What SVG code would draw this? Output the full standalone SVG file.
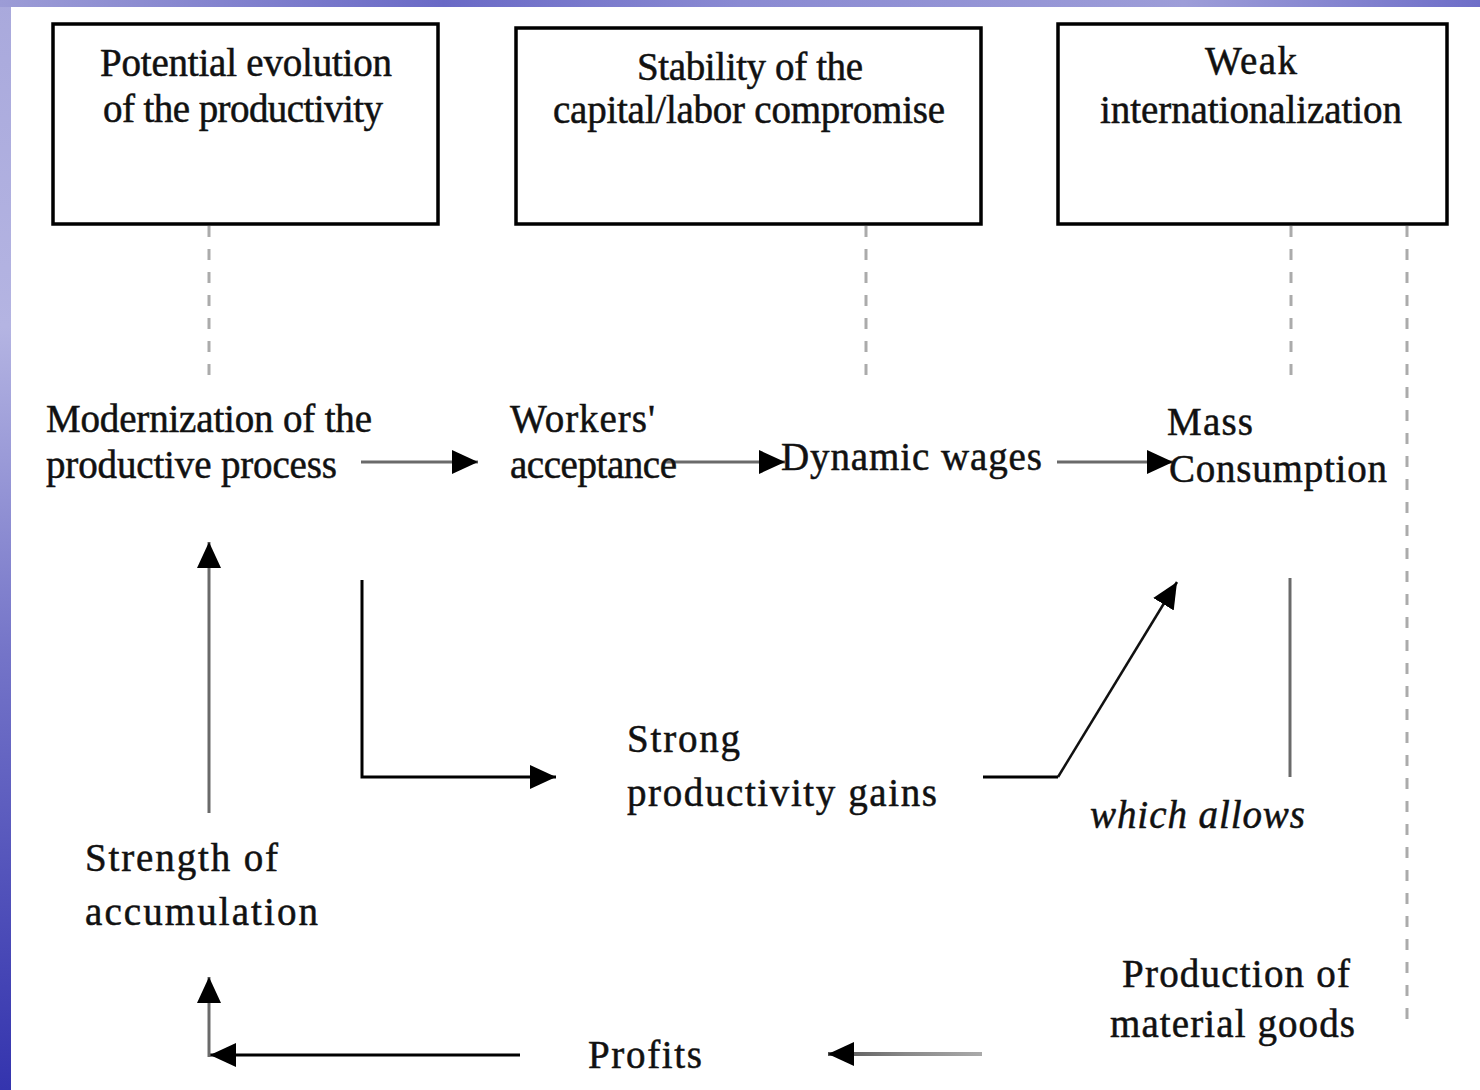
<svg xmlns="http://www.w3.org/2000/svg" width="1480" height="1090" viewBox="0 0 1480 1090">
<defs>
<linearGradient id="side" x1="0" y1="0" x2="0" y2="1">
<stop offset="0" stop-color="#a9a9dc"/>
<stop offset="0.3" stop-color="#b4b4e2"/>
<stop offset="0.6" stop-color="#7474c8"/>
<stop offset="1" stop-color="#3434ae"/>
</linearGradient>
<linearGradient id="top" x1="0" y1="0" x2="1" y2="0">
<stop offset="0" stop-color="#9c9cd6"/>
<stop offset="0.3" stop-color="#6a6ac6"/>
<stop offset="0.5" stop-color="#8a8ad2"/>
<stop offset="0.8" stop-color="#9d9dd8"/>
<stop offset="1" stop-color="#6e6ec8"/>
</linearGradient>
<linearGradient id="fade" gradientUnits="userSpaceOnUse" x1="830" y1="0" x2="982" y2="0">
<stop offset="0" stop-color="#555"/>
<stop offset="0.5" stop-color="#888"/>
<stop offset="1" stop-color="#aaa"/>
</linearGradient>
<marker id="ah" markerUnits="userSpaceOnUse" markerWidth="26" markerHeight="24" refX="26" refY="12" orient="auto" viewBox="0 0 26 24">
<path d="M0,0 L26,12 L0,24 z" fill="#000"/>
</marker>
</defs>
<style>
.t{font-family:"Liberation Serif","Times New Roman",serif;font-size:39px;fill:#111;stroke:#111;stroke-width:0.5;}
.c{text-anchor:middle;}
.box{fill:#fff;stroke:#000;stroke-width:3.5;}
.dash{stroke:#ababab;stroke-width:3;stroke-dasharray:11 12;fill:none;}
.g{stroke:#6a6a6a;stroke-width:3;fill:none;}
.k{stroke:#000;stroke-width:3;fill:none;}
</style>
<rect x="0" y="0" width="1480" height="1090" fill="url(#side)"/>
<rect x="0" y="0" width="1480" height="7" fill="url(#top)"/>
<rect x="11" y="7" width="1469" height="1083" fill="#fff"/>

<g id="connectors">
<line class="dash" x1="209" y1="226" x2="209" y2="376"/>
<line class="dash" x1="866" y1="226" x2="866" y2="376"/>
<line class="dash" x1="1291" y1="226" x2="1291" y2="376"/>
<line class="dash" x1="1407" y1="226" x2="1407" y2="1020"/>
<line class="g" x1="361" y1="462" x2="478" y2="462" marker-end="url(#ah)"/>
<line class="g" x1="665" y1="462" x2="785" y2="462" marker-end="url(#ah)"/>
<line class="g" x1="1057" y1="462" x2="1173" y2="462" marker-end="url(#ah)"/>
<line class="g" x1="209" y1="813" x2="209" y2="542" stroke="#808080" marker-end="url(#ah)"/>
<path class="k" d="M362,580 V777 H556" marker-end="url(#ah)"/>
<path class="k" d="M983,777 H1058" />
<line x1="1058" y1="777" x2="1177" y2="582" stroke="#111" stroke-width="2.5" marker-end="url(#ah)"/>
<line class="g" x1="1290" y1="578" x2="1290" y2="777" stroke="#888"/>
<line class="k" x1="520" y1="1055" x2="210" y2="1055" stroke-width="3.5" marker-end="url(#ah)"/>
<line class="g" x1="209" y1="1057" x2="209" y2="977" stroke="#777" marker-end="url(#ah)"/>
<line x1="982" y1="1054" x2="828" y2="1054" stroke="url(#fade)" stroke-width="4" marker-end="url(#ah)"/>
</g>

<g id="box-productivity">
<rect class="box" x="53" y="24" width="385" height="200"/>
<text class="t c" x="246" y="76" textLength="292">Potential evolution</text>
<text class="t c" x="243" y="122" textLength="280">of the productivity</text>
</g>
<g id="box-stability">
<rect class="box" x="516" y="28" width="465" height="196"/>
<text class="t c" x="750" y="80" textLength="226">Stability of the</text>
<text class="t c" x="749" y="123" textLength="392">capital/labor compromise</text>
</g>
<g id="box-weak">
<rect class="box" x="1058" y="24" width="389" height="200"/>
<text class="t c" x="1251" y="74" textLength="92">Weak</text>
<text class="t c" x="1251" y="123" textLength="302">internationalization</text>
</g>

<g id="node-modernization">
<text class="t" x="46" y="432" textLength="326">Modernization of the</text>
<text class="t" x="46" y="478" textLength="291">productive process</text>
</g>
<g id="node-workers">
<text class="t" x="510" y="432" textLength="145">Workers'</text>
<text class="t" x="510" y="478" textLength="167">acceptance</text>
</g>
<g id="node-wages">
<text class="t" x="781" y="470" textLength="261">Dynamic wages</text>
</g>
<g id="node-mass">
<text class="t" x="1167" y="435" textLength="86">Mass</text>
<text class="t" x="1169" y="482" textLength="218">Consumption</text>
</g>
<g id="node-gains">
<text class="t" x="627" y="752" textLength="113">Strong</text>
<text class="t" x="627" y="806" textLength="310">productivity gains</text>
</g>
<g id="label-allows">
<text class="t" x="1090" y="828" font-style="italic" textLength="215">which allows</text>
</g>
<g id="node-accumulation">
<text class="t" x="85" y="871" textLength="193">Strength of</text>
<text class="t" x="85" y="925" textLength="233">accumulation</text>
</g>
<g id="node-production">
<text class="t" x="1122" y="987" textLength="228">Production of</text>
<text class="t" x="1110" y="1037" textLength="245">material goods</text>
</g>
<g id="node-profits">
<text class="t" x="588" y="1068" textLength="114">Profits</text>
</g>
</svg>
